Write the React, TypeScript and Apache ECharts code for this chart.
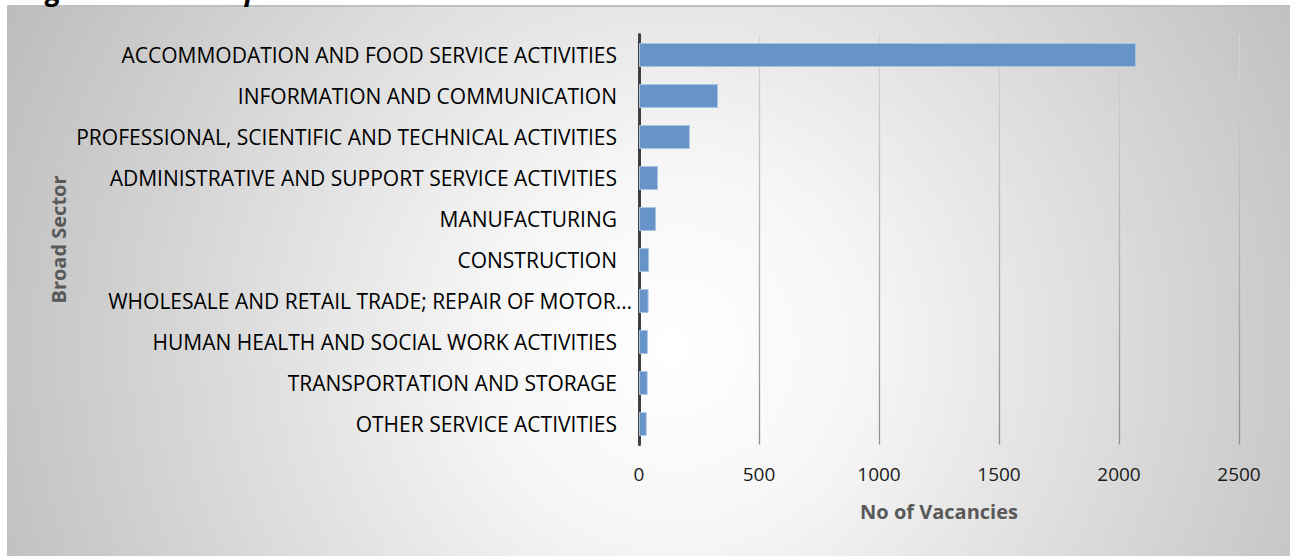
import React, { useEffect, useRef } from "react";
import * as echarts from "echarts";

const titleText = "Figure 12: The Top Sectors";
const categories = [
  "ACCOMMODATION AND FOOD SERVICE ACTIVITIES",
  "INFORMATION AND COMMUNICATION",
  "PROFESSIONAL, SCIENTIFIC AND TECHNICAL ACTIVITIES",
  "ADMINISTRATIVE AND SUPPORT SERVICE ACTIVITIES",
  "MANUFACTURING",
  "CONSTRUCTION",
  "WHOLESALE AND RETAIL TRADE; REPAIR OF MOTOR VEHICLES AND MOTORCYCLES",
  "HUMAN HEALTH AND SOCIAL WORK ACTIVITIES",
  "TRANSPORTATION AND STORAGE",
  "OTHER SERVICE ACTIVITIES",
];
const shownLabels = [
  "ACCOMMODATION AND FOOD SERVICE ACTIVITIES",
  "INFORMATION AND COMMUNICATION",
  "PROFESSIONAL, SCIENTIFIC AND TECHNICAL ACTIVITIES",
  "ADMINISTRATIVE AND SUPPORT SERVICE ACTIVITIES",
  "MANUFACTURING",
  "CONSTRUCTION",
  "WHOLESALE AND RETAIL TRADE; REPAIR OF MOTOR…",
  "HUMAN HEALTH AND SOCIAL WORK ACTIVITIES",
  "TRANSPORTATION AND STORAGE",
  "OTHER SERVICE ACTIVITIES",
];
const vacancies = [2071, 329, 212, 79, 71, 42, 40, 37, 36, 32];
const xTicks = { min: 0, max: 2500, interval: 500 };
const xAxisName = "No of Vacancies";
const yAxisName = "Broad Sector";

const FONT = "'Open Sans', sans-serif";

export default function App() {
  const ref = useRef<HTMLDivElement>(null);
  useEffect(() => {
    if (!ref.current) return;
    const chart = echarts.init(ref.current, undefined, { renderer: "svg" });
    chart.setOption({
      animation: false,
      backgroundColor: "transparent",
      textStyle: { fontFamily: FONT },
      graphic: [
        {
          type: "text",
          x: 23,
          y: -11,
          style: {
            text: titleText,
            font: "italic bold 28px " + FONT,
            fill: "#000",
            verticalAlign: "middle",
          },
        },
      ],
      grid: { left: 639, right: 51, top: 34.5, bottom: 111.5 },
      xAxis: {
        type: "value",
        min: xTicks.min,
        max: xTicks.max,
        interval: xTicks.interval,
        name: xAxisName,
        nameLocation: "middle",
        nameGap: 57,
        nameTextStyle: { fontFamily: FONT, fontWeight: "bold", fontSize: 20, color: "#595959" },
        axisLine: { show: false },
        axisTick: { show: false },
        axisLabel: {
          margin: 20,
          fontFamily: FONT,
          fontSize: 19,
          color: "#1a1a1a",
          formatter: (v: number) => String(v),
        },
        splitLine: {
          show: true,
          lineStyle: {
            width: 1.3,
            color: new echarts.graphic.LinearGradient(
              0, 35, 0, 445,
              [
                { offset: 0, color: "#d6d6d6" },
                { offset: 1, color: "#8f8f8f" },
              ],
              true
            ),
          },
        },
      },
      yAxis: {
        type: "category",
        data: categories,
        inverse: true,
        name: yAxisName,
        nameLocation: "middle",
        nameGap: 571,
        nameTextStyle: { fontFamily: FONT, fontWeight: "bold", fontSize: 20, color: "#595959" },
        axisLine: { show: true, lineStyle: { color: "#404040", width: 3 } },
        axisTick: { show: false },
        axisLabel: {
          margin: 7,
          fontFamily: FONT,
          fontSize: 21,
          color: "#000",
          formatter: (v: string) => {
            const i = categories.indexOf(v);
            const t = shownLabels[i];
            return t !== v ? "{b|" + t + "}" : "{a|" + t + "}";
          },
          rich: {
            a: { fontFamily: FONT, fontSize: 21, color: "#000", padding: [0, 15, 0, 0] },
            b: { fontFamily: FONT, fontSize: 21, color: "#000" },
          },
        },
        splitLine: { show: false },
      },
      series: [
        {
          type: "bar",
          data: vacancies,
          barWidth: 24,
          itemStyle: { color: "#6694c8", borderColor: "#a9c3e3", borderWidth: 1 },
        },
      ],
    });
    return () => chart.dispose();
  }, []);

  return (
    <div style={{ position: "fixed", left: 0, top: 0, width: 1290, height: 556, background: "#fff", overflow: "hidden" }}>
      <div
        style={{
          position: "absolute",
          left: 7,
          top: 5,
          right: 0,
          bottom: 0,
          borderTop: "2px solid #bfbfbf",
          background:
            "radial-gradient(circle farthest-corner at 52% 62%, #ffffff 0%, #f6f6f6 25%, #bcbcbc 100%)",
        }}
      />
      <div ref={ref} style={{ position: "absolute", left: 0, top: 0, width: 1290, height: 556 }} />
    </div>
  );
}
